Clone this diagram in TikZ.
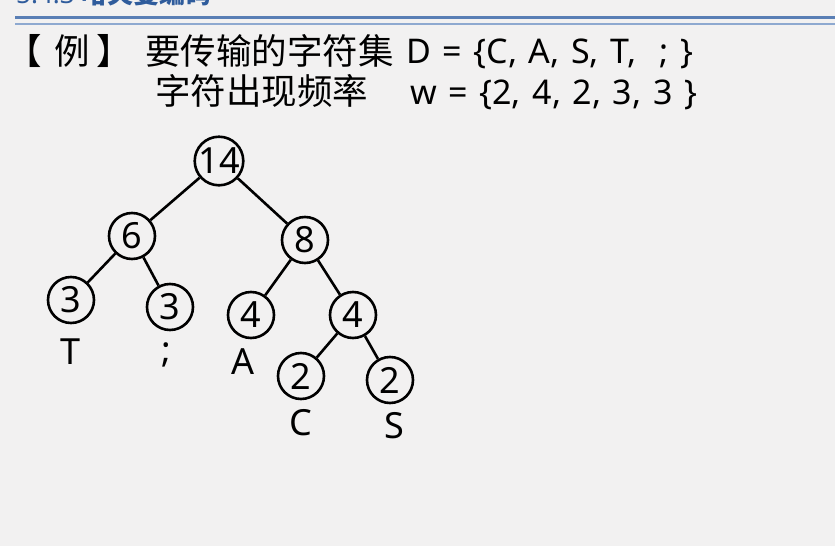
\documentclass[tikz,border=0pt]{standalone}
\usepackage{fontspec}
\setmainfont{Noto Sans}
\newfontfamily\cjk{Noto Sans CJK SC}
\newcommand\widesp{\spaceskip=11.6pt plus 1pt\relax}
\definecolor{bgc}{HTML}{F2F1F1}
\definecolor{titleblue}{HTML}{2F5C9C}
\definecolor{lineblue}{HTML}{5A7FB5}
\definecolor{lineblue2}{HTML}{8EA9D0}
\begin{document}
\begin{tikzpicture}[x=1pt,y=-1pt,
  numnode/.style={circle,draw=black,line width=2.6pt,minimum size=46pt,inner sep=0pt,font=\fontsize{36}{40}\selectfont},
  leaflabel/.style={inner sep=0pt,font=\fontsize{36}{40}\selectfont},
  edge/.style={draw=black,line width=2.6pt},
  cjktxt/.style={inner sep=0pt,anchor=base west,font=\fontsize{35.5}{40}\selectfont\cjk},
  txt/.style={inner sep=0pt,anchor=base west,font=\fontsize{34}{38}\selectfont\widesp}]
\useasboundingbox (0,0) rectangle (835,546);
\fill[bgc] (0,0) rectangle (835,546);
\begin{scope}
\clip (0,0) rectangle (835,546);
\node[inner sep=0pt,anchor=base west,text=titleblue,font=\fontsize{26}{30}\selectfont\bfseries] (title) at (16,3) {5.4.3 {\cjk 哈夫曼编码}};
\end{scope}
\coordinate (l1a) at (15,17.5);
\coordinate (l1b) at (835,17.5);
\coordinate (l2a) at (15,24);
\coordinate (l2b) at (835,24);
\draw[lineblue,line width=2.5pt] (l1a) -- (l1b);
\draw[lineblue2,line width=1.2pt] (l2a) -- (l2b);
% text
\node[cjktxt] (bra) at (6,64) {【};
\node[cjktxt] (li) at (54,64) {例};
\node[cjktxt] (brb) at (96,64) {】};
\node[cjktxt] (t1) at (145,64) {要传输的字符集};
\node[txt] (d1) at (406,63) {D = \{C, A, S, T,\hspace{11.6pt} ; \}};
\node[cjktxt] (t2) at (155,104) {字符出现频率};
\node[txt] (d2) at (410,104) {w = \{2, 4, 2, 3, 3 \}};
% tree
\node[numnode] (n14) at (219,161) {14};
\node[numnode] (n6) at (132,236) {6};
\node[numnode] (n8) at (305,240) {8};
\node[numnode] (n3a) at (71,300) {3};
\node[numnode] (n3b) at (170,307) {3};
\node[numnode] (n4a) at (251,315) {4};
\node[numnode] (n4b) at (353,315) {4};
\node[numnode] (n2a) at (301,376) {2};
\node[numnode] (n2b) at (390,380) {2};
\node[leaflabel] (lT) at (71,352) {T};
\node[leaflabel] (lsemi) at (166,355) {;};
\node[leaflabel] (lA) at (243,362) {A};
\node[leaflabel] (lC) at (301,423) {C};
\node[leaflabel] (lS) at (394,426) {S};
\draw[edge] (n14) -- (n6);
\draw[edge] (n14) -- (n8);
\draw[edge] (n6) -- (n3a);
\draw[edge] (n6) -- (n3b);
\draw[edge] (n8) -- (n4a);
\draw[edge] (n8) -- (n4b);
\draw[edge] (n4b) -- (n2a);
\draw[edge] (n4b) -- (n2b);
\end{tikzpicture}
\end{document}
